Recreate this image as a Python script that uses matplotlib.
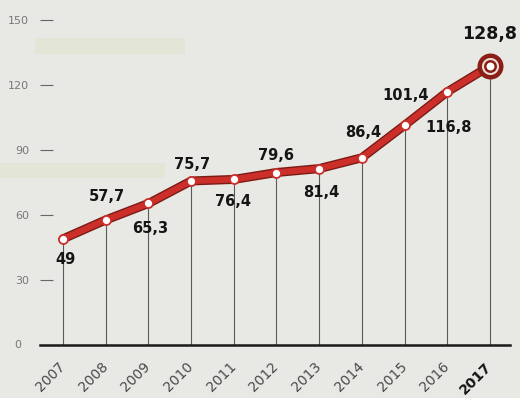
import matplotlib
matplotlib.use('Agg')
import matplotlib.pyplot as plt
import matplotlib.patches as mpatches

# Data
years = [2007, 2008, 2009, 2010, 2011, 2012, 2013, 2014, 2015, 2016, 2017]
values = [49, 57.7, 65.3, 75.7, 76.4, 79.6, 81.4, 86.4, 101.4, 116.8, 128.8]
yticks = [0, 30, 60, 90, 120, 150]

# label offsets in pixels (dx, dy) from each point
label_offsets = [(2, -21), (1, 23), (2, -25), (1, 16), (-1, -22), (0, 17),
                 (2, -24), (1, 25), (1, 30), (1, -36), (0, 32)]

bg = '#e8e8e5'
red = '#cc2f2a'
dark_red = '#7a1c15'

fig = plt.figure(figsize=(5.2, 3.98), dpi=100)
fig.patch.set_facecolor(bg)

# faint scan stripes of the paper
W, H = 520, 398
for (x0, y0, w, h) in [(35, 38, 150, 16), (0, 163, 165, 15)]:
    fig.patches.append(mpatches.Rectangle(
        (x0 / W, 1 - (y0 + h) / H), w / W, h / H, transform=fig.transFigure,
        color='#dfe2c4', alpha=0.45, zorder=0, lw=0))

ax = fig.add_axes([40 / W, 1 - 345 / H, 470 / W, 345 / H])
ax.set_facecolor('none')
ax.set_xlim(2006.46, 2017.47)
ax.set_ylim(0, 159.2)

for s in ['top', 'right', 'left']:
    ax.spines[s].set_visible(False)
ax.spines['bottom'].set_color('#1a1a1a')
ax.spines['bottom'].set_linewidth(1.8)

# vertical drop lines
ax.vlines(years, 0, values, color='#5a5a5a', lw=0.8, zorder=1)

# the line: dark edge under red
ax.plot(years, values, color=dark_red, lw=6.5, solid_capstyle='round', zorder=2)
ax.plot(years, values, color=red, lw=4.5, solid_capstyle='round', zorder=3)
ax.plot(years[:-1], values[:-1], 'o', ms=6.5, mfc='white', mec=red, mew=1.3, zorder=4)

# highlighted last point: double ring
ax.plot(years[-1], values[-1], 'o', ms=15.5, mfc='#eadcd6', mec='#8a1f18', mew=3.2, zorder=4)
ax.plot(years[-1], values[-1], 'o', ms=7.5, mfc='white', mec='#8a1f18', mew=1.8, zorder=5)

for i, (yr, v) in enumerate(zip(years, values)):
    txt = '{:g}'.format(v).replace('.', ',')
    dx, dy = label_offsets[i]
    last = (i == len(years) - 1)
    ax.annotate(txt, (yr, v), xytext=(dx, dy), textcoords='offset pixels',
                ha='center', va='center', fontweight='bold',
                fontsize=12.5 if last else 10.5, color='#151515', zorder=7)

ax.set_yticks(yticks[1:])
ax.set_yticklabels([str(t) for t in yticks[1:]])
ax.tick_params(axis='y', direction='in', length=9, width=0.8, color='#666666',
               labelsize=8, labelcolor='#777777', pad=8)
ax.text(-0.04, 0, '0', transform=ax.get_yaxis_transform(), ha='right',
        va='center', fontsize=8, color='#777777')

ax.set_xticks(years)
ax.set_xticklabels([str(y) for y in years], rotation=45, ha='right',
                   va='center', rotation_mode='anchor')
ax.tick_params(axis='x', length=0, pad=14, labelsize=10, labelcolor='#4a4a4a')
for lab in ax.get_xticklabels():
    if lab.get_text() == '2017':
        lab.set_fontweight('bold')
        lab.set_color('#151515')

fig.savefig('out.png', dpi=100, facecolor=bg)
